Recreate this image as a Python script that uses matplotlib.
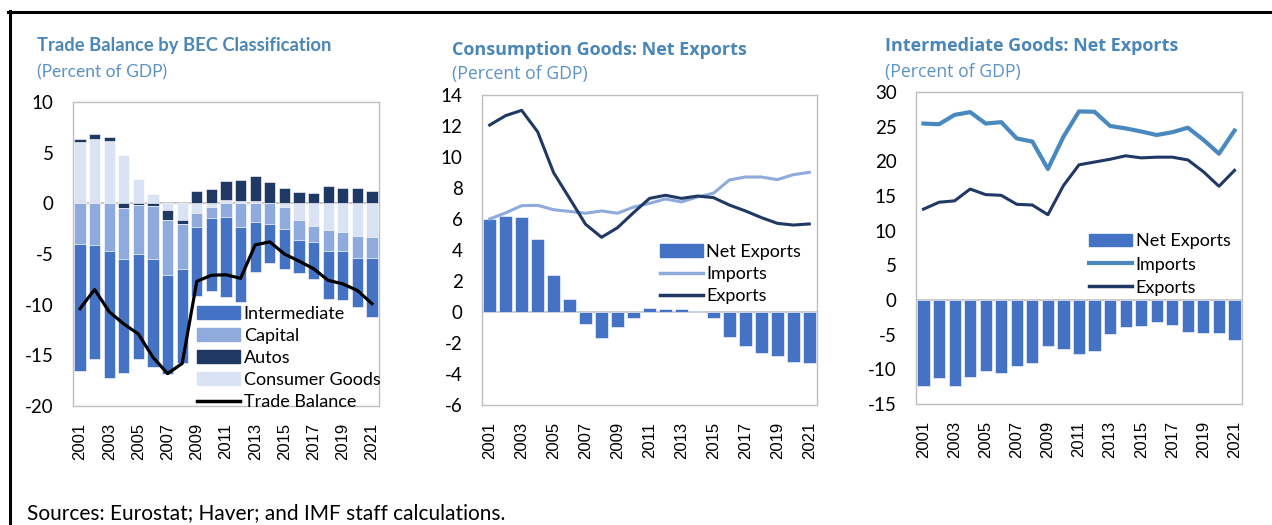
import matplotlib
matplotlib.use('Agg')
import matplotlib.pyplot as plt
from matplotlib.patches import Patch
from matplotlib.lines import Line2D
import numpy as np

years = list(range(2001, 2022))
year_labels = [str(y) if (y - 2001) % 2 == 0 else '' for y in years]

# Panel 1: Trade balance by BEC classification (percent of GDP)
intermediate = [-12.5, -11.3, -12.5, -11.2, -10.4, -10.6, -9.8, -9.3, -6.8, -7.2, -7.9,
                -7.4, -5.0, -3.9, -3.9, -3.3, -3.7, -4.7, -4.8, -4.8, -5.8]
capital = [-4.0, -4.1, -4.7, -5.1, -4.8, -5.3, -5.4, -4.45, -1.4, -1.1, -1.35,
           -2.3, -1.8, -2.0, -2.15, -2.0, -1.6, -2.1, -1.95, -2.15, -2.1]
autos = [0.2, 0.5, 0.3, -0.43, -0.17, -0.23, -0.95, -0.4, 1.26, 1.46, 1.88,
         2.03, 2.43, 2.04, 1.49, 1.16, 1.06, 1.75, 1.52, 1.49, 1.23]
consumer = [6.1, 6.35, 6.2, 4.8, 2.4, 0.9, -0.7, -1.65, -0.93, -0.35, 0.3,
            0.25, 0.25, 0.05, -0.4, -1.6, -2.2, -2.6, -2.8, -3.25, -3.3]
trade_balance = [-10.4, -8.5, -10.7, -11.9, -12.9, -15.2, -16.8, -15.8, -7.7, -7.1, -7.05,
                 -7.4, -4.1, -3.8, -5.0, -5.7, -6.45, -7.6, -7.95, -8.6, -9.9]

# Panel 2: Consumption goods
cons_net = [6.0, 6.2, 6.13, 4.7, 2.4, 0.86, -0.75, -1.7, -0.99, -0.39, 0.28,
            0.22, 0.22, 0.06, -0.39, -1.59, -2.19, -2.62, -2.84, -3.23, -3.31]
cons_imp = [6.0, 6.4, 6.86, 6.88, 6.6, 6.49, 6.37, 6.52, 6.37, 6.77, 7.01,
            7.29, 7.1, 7.42, 7.66, 8.52, 8.71, 8.71, 8.54, 8.86, 9.01]
cons_exp = [12.06, 12.67, 13.01, 11.63, 8.99, 7.33, 5.66, 4.82, 5.44, 6.41, 7.33,
            7.53, 7.33, 7.48, 7.38, 6.9, 6.52, 6.09, 5.72, 5.61, 5.68]

# Panel 3: Intermediate goods
int_net = [-12.4, -11.2, -12.4, -11.1, -10.3, -10.5, -9.5, -9.1, -6.6, -7.0, -7.75,
           -7.3, -4.9, -3.85, -3.75, -3.15, -3.6, -4.6, -4.7, -4.7, -5.7]
int_imp = [25.45, 25.35, 26.7, 27.1, 25.45, 25.65, 23.3, 22.85, 18.9, 23.55, 27.2,
           27.15, 25.1, 24.75, 24.3, 23.8, 24.2, 24.85, 23.1, 21.1, 24.45]
int_exp = [13.1, 14.1, 14.3, 16.0, 15.2, 15.1, 13.8, 13.7, 12.3, 16.5, 19.5,
           19.9, 20.3, 20.8, 20.5, 20.6, 20.6, 20.2, 18.5, 16.4, 18.7]

C_INT = '#4472C4'
C_CAP = '#8FAADC'
C_AUTO = '#203864'
C_CONS = '#DAE3F3'
C_TITLE = '#4A86B8'
C_SUB = '#5B93C7'
C_FRAME = '#BFBFBF'
C_IMP3 = '#4A89BF'

FONT = 'Lato'
TICKFS = 13.5
LEGFS = 13
plt.rcParams['font.family'] = [FONT, 'DejaVu Sans']

W, H = 1272, 525
fig = plt.figure(figsize=(W / 100, H / 100), dpi=100)


def px_axes(x0, y0, x1, y1):
    return fig.add_axes([x0 / W, 1 - y1 / H, (x1 - x0) / W, (y1 - y0) / H])


def style(ax, ylim, yticks):
    x = np.arange(len(years))
    ax.set_xlim(-0.48, len(years) - 0.52)
    ax.set_ylim(*ylim)
    ax.set_yticks(yticks)
    ax.set_yticklabels([str(t) for t in yticks], fontsize=TICKFS, family=FONT)
    ax.set_xticks(x)
    ax.set_xticklabels(year_labels, rotation=90, fontsize=12,
                       family='Liberation Sans')
    ax.tick_params(axis='both', length=0)
    ax.tick_params(axis='x', pad=12)
    ax.tick_params(axis='y', pad=14)
    for s in ax.spines.values():
        s.set_color(C_FRAME)
        s.set_linewidth(1.0)
    ax.axhline(0, color=C_FRAME, lw=1.2, zorder=1)


LEG_KW = dict(loc='upper left', frameon=False, fontsize=LEGFS, handlelength=2.4,
              handleheight=0.7, handletextpad=0.2, borderpad=0, borderaxespad=0)

x = np.arange(len(years))
bw = 0.78

# ---- Panel 1
ax1 = px_axes(73, 102, 379, 406)
pos = np.zeros(len(years))
neg = np.zeros(len(years))
for vals, col in [(consumer, C_CONS), (autos, C_AUTO), (capital, C_CAP), (intermediate, C_INT)]:
    v = np.array(vals)
    bottom = np.where(v >= 0, pos, neg)
    ax1.bar(x, v, bw, bottom=bottom, color=col, edgecolor='white', linewidth=0.4, zorder=2)
    pos = pos + np.where(v >= 0, v, 0)
    neg = neg + np.where(v < 0, v, 0)
ax1.plot(x, trade_balance, color='black', lw=2.3, zorder=4)
style(ax1, (-20, 10), [-20, -15, -10, -5, 0, 5, 10])
h1 = [Patch(color=C_INT), Patch(color=C_CAP), Patch(color=C_AUTO), Patch(color=C_CONS),
      Line2D([], [], color='black', lw=2.5)]
ax1.legend(h1, ['Intermediate', 'Capital', 'Autos', 'Consumer Goods', 'Trade Balance'],
           bbox_to_anchor=(0.405, 0.33), labelspacing=0.34, **LEG_KW)

# ---- Panel 2
ax2 = px_axes(482, 95, 817, 405)
ax2.bar(x, cons_net, bw, color=C_INT, edgecolor='white', linewidth=0.4, zorder=2)
ax2.plot(x, cons_imp, color=C_CAP, lw=2.2, zorder=3)
ax2.plot(x, cons_exp, color=C_AUTO, lw=2.2, zorder=4)
style(ax2, (-6, 14), [-6, -4, -2, 0, 2, 4, 6, 8, 10, 12, 14])
h2 = [Patch(color=C_INT), Line2D([], [], color=C_CAP, lw=2.5), Line2D([], [], color=C_AUTO, lw=2.5)]
ax2.legend(h2, ['Net Exports', 'Imports', 'Exports'],
           bbox_to_anchor=(0.53, 0.52), labelspacing=0.34, **LEG_KW)

# ---- Panel 3
ax3 = px_axes(916, 92, 1242, 404)
ax3.bar(x, int_net, bw, color=C_INT, edgecolor='white', linewidth=0.4, zorder=2)
ax3.plot(x, int_imp, color=C_IMP3, lw=3.0, zorder=3)
ax3.plot(x, int_exp, color=C_AUTO, lw=2.2, zorder=4)
style(ax3, (-15, 30), [-15, -10, -5, 0, 5, 10, 15, 20, 25, 30])
h3 = [Patch(color=C_INT), Line2D([], [], color=C_IMP3, lw=3.0), Line2D([], [], color=C_AUTO, lw=2.5)]
ax3.legend(h3, ['Net Exports', 'Imports', 'Exports'],
           bbox_to_anchor=(0.53, 0.547), labelspacing=0.4, **LEG_KW)

# ---- Titles
def ftext(xp, yp, s, **kw):
    fig.text(xp / W, 1 - yp / H, s, va='center', ha='left', **kw)

ftext(37, 46, 'Trade Balance by BEC Classification', fontsize=13.2, fontweight='bold',
      color=C_TITLE, family=FONT)
ftext(37, 72, '(Percent of GDP)', fontsize=12.5, color=C_SUB, family=FONT)
ftext(452, 50, 'Consumption Goods: Net Exports', fontsize=13, fontweight='bold',
      color=C_TITLE, family='Open Sans')
ftext(452, 74, '(Percent of GDP)', fontsize=12.7, color=C_SUB, family='Open Sans')
ftext(885, 46, 'Intermediate Goods: Net Exports', fontsize=13, fontweight='bold',
      color=C_TITLE, family='Open Sans')
ftext(885, 72, '(Percent of GDP)', fontsize=12.7, color=C_SUB, family='Open Sans')
ftext(27, 513, 'Sources: Eurostat; Haver; and IMF staff calculations.', fontsize=15,
      color='black', family=FONT)

# ---- Border
fig.add_artist(Line2D([8 / W, 1], [1 - 11.5 / H, 1 - 11.5 / H], color='black', lw=2.2,
                      transform=fig.transFigure))
fig.add_artist(Line2D([9.5 / W, 9.5 / W], [1 - 10.5 / H, 0], color='black', lw=2.2,
                      transform=fig.transFigure))

fig.savefig('out.png', dpi=100)
